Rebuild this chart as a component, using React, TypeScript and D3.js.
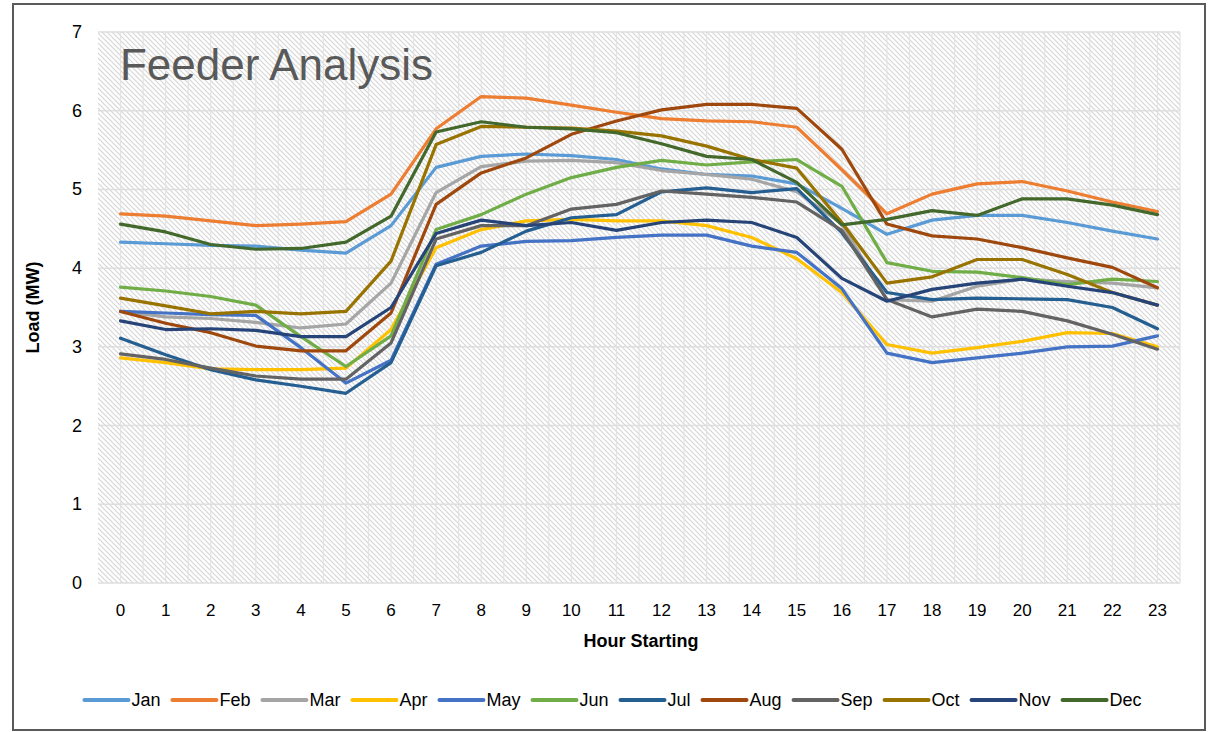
import React from "react";
import * as d3 from "d3";

const hours = d3.range(24);
const months = ["Jan", "Feb", "Mar", "Apr", "May", "Jun", "Jul", "Aug", "Sep", "Oct", "Nov", "Dec"];
const colors = ["#5B9BD5", "#ED7D31", "#A5A5A5", "#FFC000", "#4472C4", "#70AD47", "#255E91", "#9E480E", "#636363", "#997300", "#264478", "#43682B"];
const yTicks = [0, 1, 2, 3, 4, 5, 6, 7];

const jan = [4.33, 4.31, 4.29, 4.28, 4.23, 4.19, 4.54, 5.28, 5.42, 5.45, 5.43, 5.38, 5.26, 5.19, 5.17, 5.07, 4.76, 4.43, 4.61, 4.67, 4.67, 4.58, 4.47, 4.37];
const feb = [4.69, 4.66, 4.6, 4.54, 4.56, 4.59, 4.94, 5.77, 6.18, 6.16, 6.07, 5.98, 5.9, 5.87, 5.86, 5.79, 5.25, 4.69, 4.94, 5.07, 5.1, 4.98, 4.84, 4.72];
const mar = [3.45, 3.38, 3.36, 3.31, 3.24, 3.29, 3.81, 4.96, 5.29, 5.36, 5.37, 5.34, 5.24, 5.19, 5.13, 4.97, 4.56, 3.6, 3.58, 3.77, 3.86, 3.83, 3.81, 3.75];
const apr = [2.86, 2.8, 2.72, 2.71, 2.71, 2.73, 3.22, 4.26, 4.49, 4.6, 4.62, 4.6, 4.6, 4.54, 4.39, 4.12, 3.69, 3.03, 2.92, 2.99, 3.07, 3.18, 3.17, 3.0];
const may = [3.45, 3.43, 3.41, 3.4, 2.99, 2.54, 2.83, 4.05, 4.28, 4.34, 4.35, 4.39, 4.42, 4.42, 4.28, 4.2, 3.74, 2.92, 2.8, 2.86, 2.92, 3.0, 3.01, 3.14];
const jun = [3.76, 3.71, 3.64, 3.53, 3.13, 2.75, 3.14, 4.49, 4.68, 4.94, 5.15, 5.28, 5.37, 5.31, 5.35, 5.38, 5.04, 4.07, 3.96, 3.95, 3.88, 3.79, 3.86, 3.83];
const jul = [3.11, 2.9, 2.71, 2.58, 2.5, 2.41, 2.8, 4.03, 4.2, 4.47, 4.64, 4.68, 4.97, 5.02, 4.96, 5.01, 4.45, 3.69, 3.6, 3.62, 3.61, 3.6, 3.5, 3.23];
const aug = [3.45, 3.3, 3.18, 3.01, 2.95, 2.95, 3.43, 4.81, 5.21, 5.4, 5.7, 5.87, 6.01, 6.08, 6.08, 6.03, 5.51, 4.56, 4.41, 4.37, 4.26, 4.13, 4.01, 3.75];
const sep = [2.91, 2.84, 2.73, 2.63, 2.59, 2.59, 3.05, 4.37, 4.54, 4.54, 4.75, 4.81, 4.98, 4.94, 4.9, 4.84, 4.48, 3.6, 3.38, 3.48, 3.45, 3.33, 3.16, 2.97];
const oct = [3.62, 3.52, 3.42, 3.45, 3.42, 3.45, 4.09, 5.57, 5.8, 5.79, 5.78, 5.74, 5.68, 5.55, 5.38, 5.27, 4.58, 3.81, 3.89, 4.11, 4.11, 3.92, 3.69, 3.53];
const nov = [3.33, 3.22, 3.23, 3.21, 3.13, 3.13, 3.5, 4.44, 4.61, 4.54, 4.58, 4.48, 4.58, 4.61, 4.58, 4.39, 3.87, 3.58, 3.73, 3.81, 3.86, 3.77, 3.69, 3.53];
const dec = [4.56, 4.46, 4.3, 4.24, 4.25, 4.33, 4.66, 5.73, 5.86, 5.79, 5.77, 5.72, 5.58, 5.42, 5.38, 5.09, 4.55, 4.62, 4.73, 4.67, 4.88, 4.88, 4.8, 4.68];

const seriesValues = [jan, feb, mar, apr, may, jun, jul, aug, sep, oct, nov, dec];

const W = 1210;
const H = 732;
const plot = { left: 98, right: 1180, top: 32, bottom: 583 };
const font = "'Liberation Sans', Arial, sans-serif";

// rough text width for the legend layout
const measure = (s: string, size: number) => {
  const c = document.createElement("canvas").getContext("2d");
  if (!c) return s.length * size * 0.55;
  c.font = `${size}px ${font}`;
  return c.measureText(s).width;
};

export default function App() {
  const x = d3.scaleBand<number>().domain(hours).range([plot.left, plot.right]).padding(0);
  const cx = (h: number) => (x(h) as number) + x.bandwidth() / 2;
  const y = d3.scaleLinear().domain([0, 7]).range([plot.bottom, plot.top]);

  const line = d3
    .line<number>()
    .x((_, i) => cx(hours[i]))
    .y((d) => y(d));

  // vertical grid: at every category centre and boundary
  const vGrid: number[] = [];
  hours.forEach((h) => {
    vGrid.push(cx(h));
    vGrid.push((x(h) as number) + x.bandwidth());
  });

  // legend layout
  const legSize = 18;
  const swatch = 44;
  const gap = 12;
  const items = months.map((m) => ({ m, w: swatch + 3 + measure(m, legSize) + gap }));
  const total = d3.sum(items, (d) => d.w) - gap;
  let lx = 613 - total / 2;
  const legend = items.map((it, i) => {
    const pos = lx;
    lx += it.w;
    return { ...it, x: pos, color: colors[i] };
  });

  return (
    <svg width={W} height={H} style={{ position: "absolute", left: 0, top: 0, background: "#fff" }}>
      <defs>
        <pattern id="hatch" width={5} height={5} patternUnits="userSpaceOnUse">
          <rect width={5} height={5} fill="#fff" />
          <path d="M-1,-1 L6,6 M-1,4 L1,6 M4,-1 L6,1" stroke="#d6d6d6" strokeWidth={1.2} />
        </pattern>
      </defs>
      <rect x={13} y={4} width={1192} height={726} fill="#fff" stroke="#5a5a5a" strokeWidth={2} />

      <rect
        x={plot.left}
        y={plot.top}
        width={plot.right - plot.left}
        height={plot.bottom - plot.top}
        fill="url(#hatch)"
      />
      {vGrid.map((gx, i) => (
        <line key={"v" + i} x1={gx} x2={gx} y1={plot.top} y2={plot.bottom} stroke="#e3e3e3" strokeWidth={1.2} />
      ))}
      {yTicks.map((t) => (
        <line key={"h" + t} x1={plot.left} x2={plot.right} y1={y(t)} y2={y(t)} stroke="#dedede" strokeWidth={1.5} />
      ))}

      <text x={120} y={80} fontFamily={font} fontSize={44} fill="#595959" textLength={313} lengthAdjust="spacingAndGlyphs">
        Feeder Analysis
      </text>

      {seriesValues.map((vals, i) => (
        <path
          key={months[i]}
          d={line(vals) || ""}
          fill="none"
          stroke={colors[i]}
          strokeWidth={3.2}
          strokeLinejoin="round"
          strokeLinecap="round"
        />
      ))}

      {yTicks.map((t) => (
        <text key={"yt" + t} x={82} y={y(t) + 6} textAnchor="end" fontFamily={font} fontSize={18} fill="#000">
          {t}
        </text>
      ))}
      {hours.map((h) => (
        <text key={"xt" + h} x={cx(h)} y={616} textAnchor="middle" fontFamily={font} fontSize={17} fill="#000">
          {h}
        </text>
      ))}

      <text x={641} y={647} textAnchor="middle" fontFamily={font} fontSize={18} fontWeight="bold" fill="#000">
        Hour Starting
      </text>
      <text
        transform={`translate(39,${(plot.top + plot.bottom) / 2}) rotate(-90)`}
        textAnchor="middle"
        fontFamily={font}
        fontSize={18}
        fontWeight="bold"
        fill="#000"
      >
        Load (MW)
      </text>

      {legend.map((d) => (
        <g key={"lg" + d.m}>
          <line x1={d.x} x2={d.x + swatch} y1={700} y2={700} stroke={d.color} strokeWidth={4} strokeLinecap="round" />
          <text x={d.x + swatch + 3} y={706} fontFamily={font} fontSize={legSize} fill="#000">
            {d.m}
          </text>
        </g>
      ))}
    </svg>
  );
}
